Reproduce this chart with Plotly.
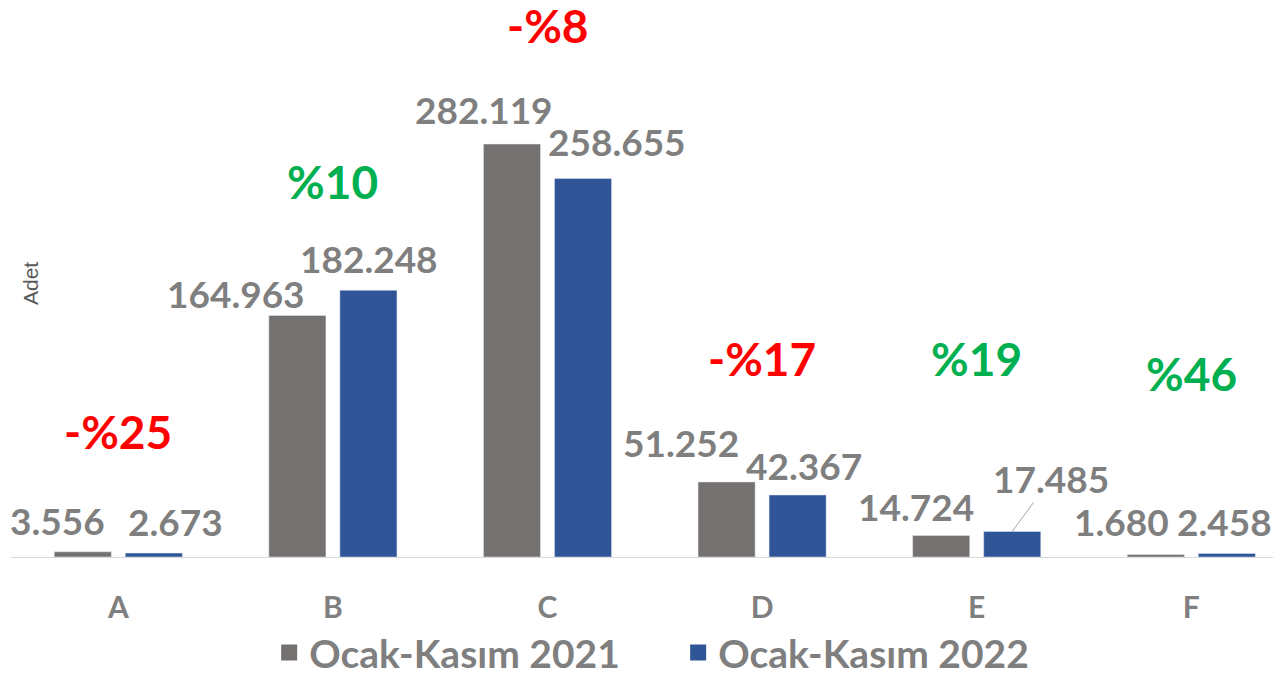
import plotly.graph_objects as go

categories = ["A", "B", "C", "D", "E", "F"]
series_2021 = [3556, 164963, 282119, 51252, 14724, 1680]
series_2022 = [2673, 182248, 258655, 42367, 17485, 2458]
name_2021 = "Ocak-Kasım 2021"
name_2022 = "Ocak-Kasım 2022"
y_title = "Adet"

GRAY = "#767171"
BLUE = "#2F5597"
TXT = "#7F7F7F"
RED = "#FF0000"
GREEN = "#00B050"
FONT = "Lato"

def fmt(v):
    return f"{v:,}".replace(",", ".")

def pct(a, b):
    p = round((b / a - 1) * 100)
    return (f"-%{abs(p)}" if p < 0 else f"%{p}"), (RED if p < 0 else GREEN)

# layout-only tweaks (pixel offsets of value-label centres from bar tops; +dy = down)
off_2021 = [(-25, -31), (-61, -22), (-28, -35), (-46, -39), (-25, -29), (-34, -33)]
off_2022 = [(22, -32), (1, -32), (34, -37), (6, -29), (39, -53), (-2, -32)]
pct_y = [86000, 256800, 363000, 135900, 135900, 125700]

x_idx = list(range(len(categories)))
half = 0.1655

fig = go.Figure()
fig.add_trace(go.Bar(x=x_idx, y=series_2021, name=name_2021, marker_color=GRAY, showlegend=False))
fig.add_trace(go.Bar(x=x_idx, y=series_2022, name=name_2022, marker_color=BLUE, showlegend=False))
# legend proxies
fig.add_trace(go.Scatter(x=[None], y=[None], mode="markers", name=name_2021,
                         marker=dict(symbol="square", size=18, color=GRAY)))
fig.add_trace(go.Scatter(x=[None], y=[None], mode="markers", name=name_2022,
                         marker=dict(symbol="square", size=18, color=BLUE)))

VFONT = dict(family=FONT, size=37, color=TXT, weight="bold")
ann = []
for i in x_idx:
    for vals, offs, sgn in ((series_2021, off_2021, -1), (series_2022, off_2022, 1)):
        v = vals[i]
        dx, dy = offs[i]
        if categories[i] == "E" and sgn == 1:
            ann.append(dict(x=i + sgn * half, y=v, text=fmt(v), showarrow=True,
                            arrowhead=0, arrowwidth=1, arrowcolor="#A6A6A6",
                            ax=dx, ay=dy, standoff=0, font=VFONT))
        else:
            ann.append(dict(x=i + sgn * half, y=v, text=fmt(v), showarrow=False,
                            xshift=dx, yshift=-dy, yanchor="middle", font=VFONT))
    t, c = pct(series_2021[i], series_2022[i])
    ann.append(dict(x=i, y=pct_y[i], text=t, showarrow=False, yanchor="middle",
                    font=dict(family=FONT, size=46, color=c, weight="bold")))

ann.append(dict(xref="paper", yref="paper", x=(22 - 3) / 1278, y=0.5,
                text=y_title, textangle=-90, showarrow=False, xanchor="center",
                font=dict(family="Liberation Sans", size=21, color="#595959")))

fig.update_layout(
    width=1281, height=677,
    margin=dict(l=3, r=0, t=3, b=128),
    paper_bgcolor="white", plot_bgcolor="white",
    barmode="group", bargap=0.338, bargroupgap=0.196,
    annotations=ann,
    showlegend=True,
    legend=dict(orientation="h", x=0.202, xanchor="left", y=-0.175, yanchor="middle",
                font=dict(family=FONT, size=39, color=TXT, weight="bold"),
                itemwidth=30, tracegroupgap=0, entrywidth=364, entrywidthmode="pixels"),
    xaxis=dict(tickmode="array", tickvals=x_idx, ticktext=categories,
               range=[-0.5, -0.5 + 1278 / 214.6], showgrid=False, zeroline=False,
               showline=True, linecolor="#D9D9D9", linewidth=1, ticks="",
               ticklabelstandoff=24,
               tickfont=dict(family=FONT, size=30, color=TXT, weight="bold")),
    yaxis=dict(range=[0, 373000], visible=False, showgrid=False),
)

fig.write_html("out.html")
